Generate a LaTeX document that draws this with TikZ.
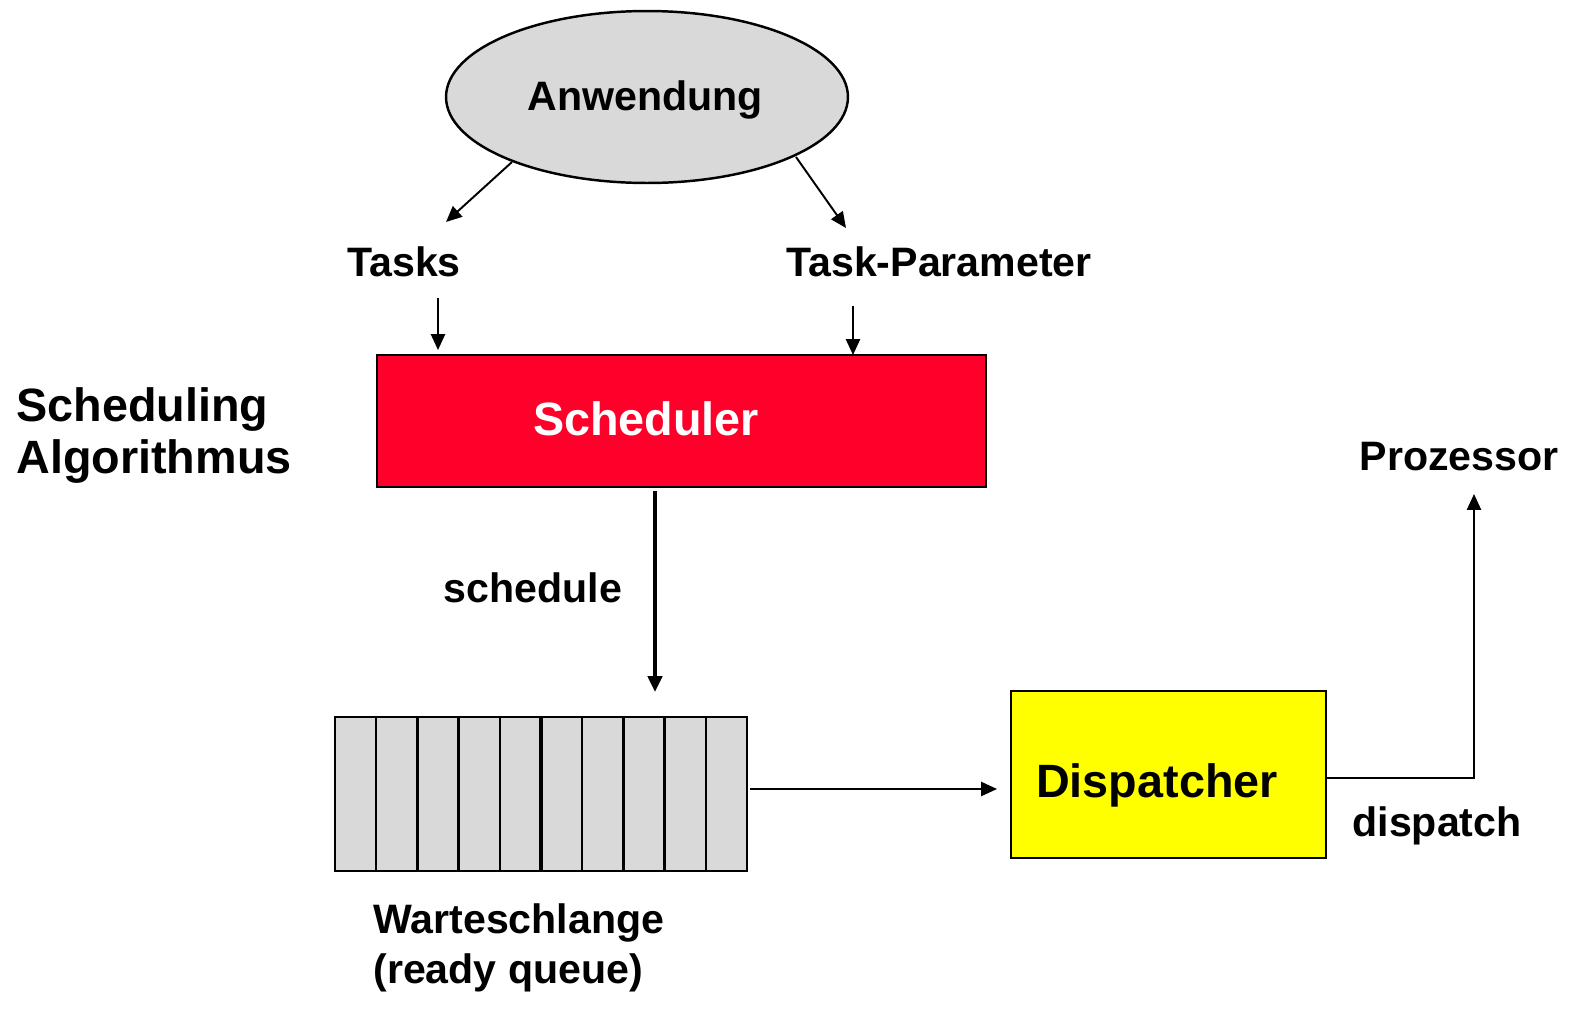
\documentclass[tikz,border=0pt]{standalone}
\usepackage{fontspec}
\setmainfont{Liberation Sans}
\usetikzlibrary{shapes.geometric,arrows.meta}
\definecolor{qqgray}{rgb}{0.85,0.85,0.85}
\definecolor{schedred}{rgb}{1,0,0.17}
\definecolor{dispyellow}{rgb}{1,1,0}

\begin{document}
\begin{tikzpicture}[x=0.02cm, y=-0.02cm,
    lbl/.style={font=\fontsize{23.4}{28.4}\selectfont\bfseries, inner sep=0pt, anchor=base},
    biglbl/.style={font=\fontsize{26.6}{29.5}\selectfont\bfseries, inner sep=0pt, anchor=base},
    arr/.style={line width=1.1pt, -{Triangle[length=9pt,width=8pt]}},
    box/.style={draw, line width=1.4pt, inner sep=0pt}]
    \useasboundingbox (0,0) rectangle (1596,1011);
    % ellipse and labels
    \node[box, ellipse, fill=qqgray, minimum width=8.04cm, minimum height=3.44cm] (app) at (647,97) {};
    \node[lbl] (appt) at (645,110) {Anwendung};
    \node[lbl] (tasks) at (404,276) {Tasks};
    \node[lbl] (params) at (939,276) {Task-Parameter};
    \coordinate (appl) at (512,162);
    \coordinate (appr) at (796,157);
    \draw [arr] (appl) -- (446,222);
    \draw [arr] (appr) -- (846,228);
    % scheduler
    \node[box, fill=schedred, minimum width=12.18cm, minimum height=2.64cm] (sched) at (681.5,421) {};
    \node[biglbl, text=white] (schedt) at (646,435) {Scheduler};
    \draw [arr] (438,298) -- (438,350);
    \draw [arr] (853,306) -- (853,355);
    \node[biglbl, align=left, anchor=base west] (algo) at (16,473) {Scheduling\\Algorithmus};
    \draw [arr, line width=2.2pt] (655,491) -- (655,692);
    \node[lbl] (schedl) at (533,602) {schedule};
    % ready queue
    \node[box, fill=qqgray, minimum width=8.24cm, minimum height=3.08cm] (queue) at (541,794) {};
    \foreach \i in {1,2,3,4,6,7,8,9}
        \draw [line width=1.4pt] (335+41.2*\i,717) -- (335+41.2*\i,871);
    \draw [line width=2.2pt] (541,717) -- (541,871);
    \node[lbl, align=left, anchor=base west] (queuel) at (373,983) {Warteschlange\\(ready queue)};
    % dispatcher
    \node[box, fill=dispyellow, minimum width=6.3cm, minimum height=3.34cm] (disp) at (1168.5,774.5) {};
    \node[biglbl] (dispt) at (1157,797) {Dispatcher};
    \draw [arr] (750,789) -- (997,789);
    \coordinate (cpu) at (1474,494);
    \draw [arr] (1326,778) -- (1474,778) -- (cpu);
    \node[lbl] (cpul) at (1459,470) {Prozessor};
    \node[lbl] (displ) at (1437,836) {dispatch};
\end{tikzpicture}
\end{document}
